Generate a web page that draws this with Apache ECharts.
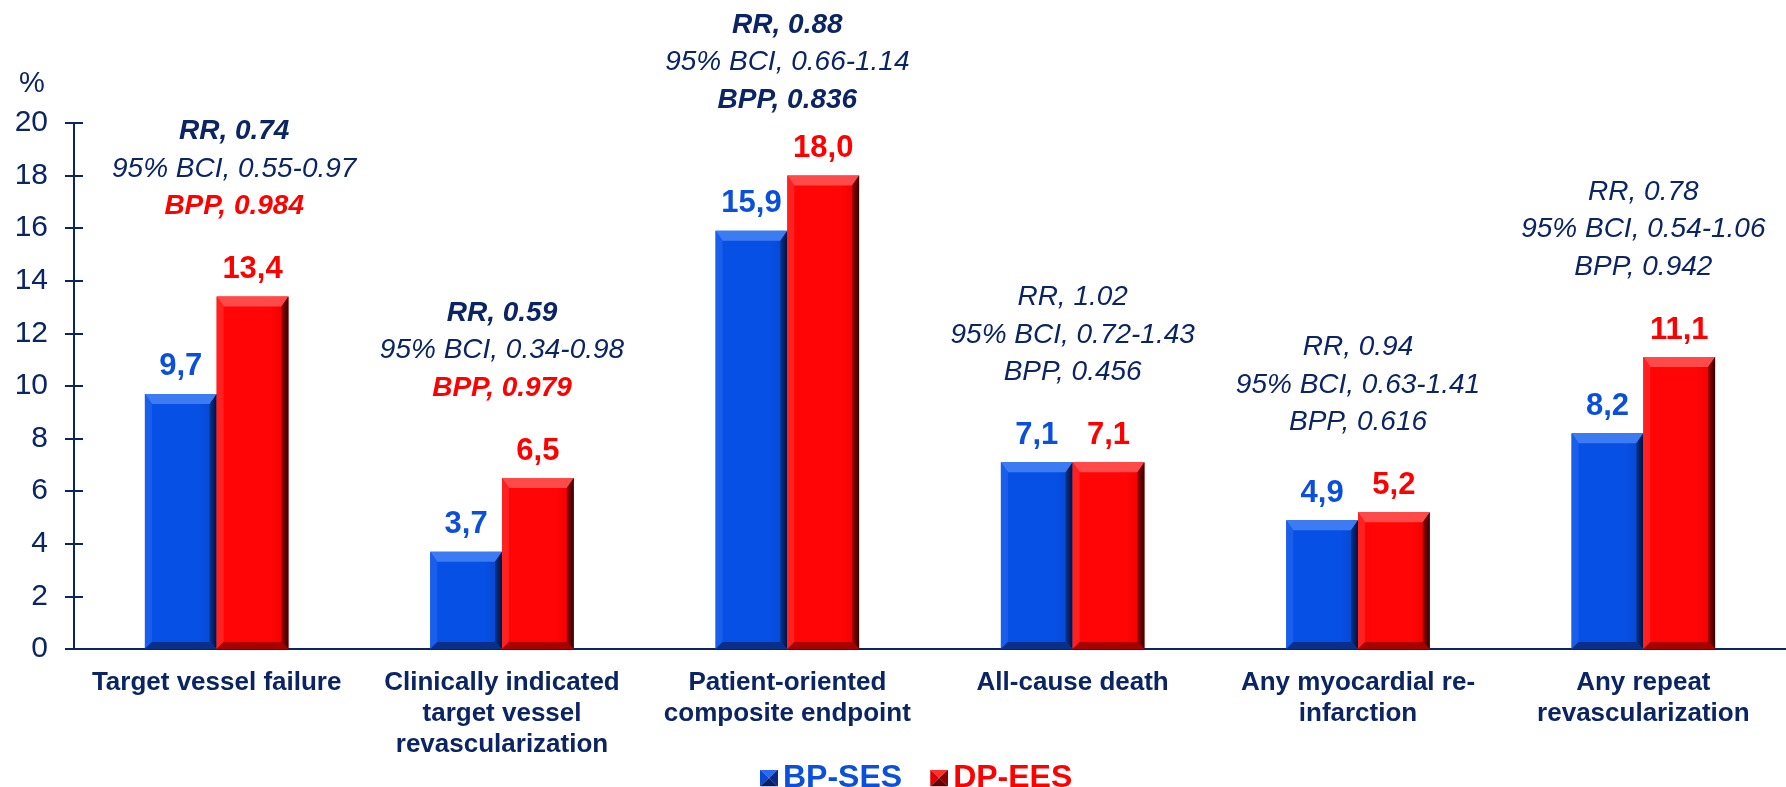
<!DOCTYPE html>
<html>
<head>
<meta charset="utf-8">
<title>BP-SES vs DP-EES</title>
<script src="https://cdn.jsdelivr.net/npm/echarts@6/dist/echarts.min.js"></script>
<style>
  html, body { margin: 0; padding: 0; background: #ffffff; }
  #chart { width: 1786px; height: 787px; }
</style>
</head>
<body>
<div id="chart"></div>
<script>
// ---- data ----
const categories = [
  'Target vessel failure',
  'Clinically indicated\ntarget vessel\nrevascularization',
  'Patient-oriented\ncomposite endpoint',
  'All-cause death',
  'Any myocardial re-\ninfarction',
  'Any repeat\nrevascularization'
];
const seriesNames = ['BP-SES', 'DP-EES'];
const bpSes = [9.7, 3.7, 15.9, 7.1, 4.9, 8.2];
const dpEes = [13.4, 6.5, 18.0, 7.1, 5.2, 11.1];
const riskRatio = [0.74, 0.59, 0.88, 1.02, 0.94, 0.78];
const bciLow = [0.55, 0.34, 0.66, 0.72, 0.63, 0.54];
const bciHigh = [0.97, 0.98, 1.14, 1.43, 1.41, 1.06];
const bpp = [0.984, 0.979, 0.836, 0.456, 0.616, 0.942];
const yMin = 0, yMax = 20, yStep = 2;

// ---- look ----
const NAVY = '#0b2463';
const FONT = '"Liberation Sans", Arial, Helvetica, sans-serif';
const palettes = [
  { face: '#0750e6', faceDark: '#0646c8', top: '#3d7bf2', left: '#1a5eec', rightA: '#08338f', rightB: '#020f3a', bottom: '#0a2f8a', label: '#0a50dc' },
  { face: '#ff0505', faceDark: '#ec0000', top: '#ff4a4a', left: '#ff2020', rightA: '#a00000', rightB: '#2e0000', bottom: '#a80000', label: '#ff0000' }
];
// how each group's note is emphasised
const noteStyle = ['highlight', 'highlight', 'bold', 'plain', 'plain', 'plain'];

function fmtValue(v) { return v.toFixed(1).replace('.', ','); }

const measureCtx = document.createElement('canvas').getContext('2d');
function textWidth(str, font) { measureCtx.font = font; return measureCtx.measureText(str).width; }

// bevelled bar with its value printed above it
function barRenderer(side) {
  return function (params, api) {
    const pal = palettes[side];
    const cat = api.value(0);
    const val = api.value(1);
    const base = api.coord([cat, 0]);
    const tip = api.coord([cat, val]);
    const band = api.size([1, 0])[0];
    const w = band * 0.2515;
    const x0 = base[0] + (side === 0 ? -w : 0);
    const x1 = x0 + w;
    const y0 = tip[1];
    const y1 = base[1];
    const h = y1 - y0;
    const b = 7;
    const bt = Math.min(10, h * 0.3);
    const bb = Math.min(7, h * 0.25);
    const children = [
      { type: 'rect', shape: { x: x0, y: y0, width: w, height: h },
        style: { fill: new echarts.graphic.LinearGradient(0, 0, 1, 0, [
          { offset: 0, color: pal.face }, { offset: 0.75, color: pal.face }, { offset: 1, color: pal.faceDark }]) } },
      { type: 'polygon', shape: { points: [[x0, y0], [x1, y0], [x1 - b, y0 + bt], [x0 + b, y0 + bt]] },
        style: { fill: pal.top } },
      { type: 'polygon', shape: { points: [[x0, y0], [x0 + b, y0 + bt], [x0 + b, y1 - bb], [x0, y1]] },
        style: { fill: pal.left } },
      { type: 'polygon', shape: { points: [[x1, y0], [x1, y1], [x1 - b, y1 - bb], [x1 - b, y0 + bt]] },
        style: { fill: new echarts.graphic.LinearGradient(0, 0, 1, 0, [
          { offset: 0, color: pal.rightA }, { offset: 1, color: pal.rightB }]) } },
      { type: 'polygon', shape: { points: [[x0, y1], [x1, y1], [x1 - b, y1 - bb], [x0 + b, y1 - bb]] },
        style: { fill: pal.bottom } },
      { type: 'text', x: x0 + w / 2, y: y0 - 27,
        style: { text: fmtValue(val), fill: pal.label, font: 'bold 31px ' + FONT, align: 'center', verticalAlign: 'middle' } }
    ];
    return { type: 'group', children: children };
  };
}

// three-line note (RR, credible interval, posterior probability) above each group
function noteRenderer(params, api) {
  const i = api.value(0);
  const tip = api.coord([i, api.value(1)]);
  const band = api.size([1, 0])[0];
  const axisX = api.coord([0, 0])[0] - band / 2;
  const gap = 37.5;
  let y3 = tip[1] - 90;
  let y1 = y3 - 2 * gap;
  if (y1 < 25) { y1 = 25; y3 = y1 + 2 * gap; }
  const kind = noteStyle[i];
  const lines = [
    { text: 'RR, ' + riskRatio[i].toFixed(2), bold: kind !== 'plain', color: NAVY },
    { text: '95% BCI, ' + bciLow[i].toFixed(2) + '-' + bciHigh[i].toFixed(2), bold: false, color: NAVY },
    { text: 'BPP, ' + bpp[i].toFixed(3), bold: kind !== 'plain', color: kind === 'highlight' ? '#ff0000' : NAVY }
  ];
  const fonts = lines.map(l => 'italic ' + (l.bold ? 'bold ' : '') + '28px ' + FONT);
  const half = Math.max.apply(null, lines.map((l, k) => textWidth(l.text, fonts[k]))) / 2;
  const cx = Math.max(tip[0], axisX + 38 + half);
  return {
    type: 'group',
    children: lines.map((l, k) => ({
      type: 'text', x: cx, y: y1 + k * gap,
      style: { text: l.text, fill: l.color, font: fonts[k], align: 'center', verticalAlign: 'middle' }
    }))
  };
}

function legendIcon(c) {
  const svg = '<svg xmlns="http://www.w3.org/2000/svg" width="18" height="17" viewBox="0 0 18 17">' +
    '<polygon points="0,0 18,0 9,8.5" fill="' + c[0] + '"/>' +
    '<polygon points="0,0 9,8.5 0,17" fill="' + c[1] + '"/>' +
    '<polygon points="18,0 18,17 9,8.5" fill="' + c[2] + '"/>' +
    '<polygon points="0,17 9,8.5 18,17" fill="' + c[3] + '"/></svg>';
  return 'image://data:image/svg+xml;charset=utf-8,' + encodeURIComponent(svg);
}

const groupTops = bpSes.map((v, i) => [i, Math.max(v, dpEes[i])]);

const chart = echarts.init(document.getElementById('chart'), null, { renderer: 'canvas' });
chart.setOption({
  animation: false,
  backgroundColor: '#ffffff',
  title: {
    text: '%', left: 14, top: 64,
    textStyle: { fontFamily: FONT, fontSize: 29, fontWeight: 'normal', color: NAVY }
  },
  legend: {
    left: 755, top: 757,
    itemWidth: 18, itemHeight: 17, itemGap: 28,
    textStyle: { fontFamily: FONT, fontSize: 32, fontWeight: 'bold' },
    data: [
      { name: seriesNames[0], icon: legendIcon(['#2a68ee', '#0a48d8', '#072a84', '#061f66']), textStyle: { color: palettes[0].label } },
      { name: seriesNames[1], icon: legendIcon(['#ff3030', '#e00000', '#8a0000', '#640000']), textStyle: { color: palettes[1].label } }
    ]
  },
  grid: { left: 74, top: 123, width: 1718, height: 526, containLabel: false },
  xAxis: {
    type: 'category',
    data: categories,
    axisLine: { show: true, lineStyle: { color: NAVY, width: 2 } },
    axisTick: { show: false },
    axisLabel: {
      interval: 0, margin: 18, color: NAVY, fontFamily: FONT,
      fontSize: 26, fontWeight: 'bold', lineHeight: 31, align: 'center'
    },
    splitLine: { show: false }
  },
  yAxis: [
    {
      type: 'value', min: yMin, max: yMax, interval: yStep,
      axisLine: { show: true, lineStyle: { color: NAVY, width: 2 } },
      axisTick: { show: true, length: 9, lineStyle: { color: NAVY, width: 2 } },
      axisLabel: { margin: 26, color: NAVY, fontFamily: FONT, fontSize: 30 },
      splitLine: { show: false }
    },
    {
      type: 'value', position: 'left', offset: 0, min: yMin, max: yMax, interval: yStep,
      axisLine: { show: false },
      axisTick: { show: true, inside: true, length: 9, lineStyle: { color: NAVY, width: 2 } },
      axisLabel: { show: false },
      splitLine: { show: false }
    }
  ],
  series: [
    {
      name: seriesNames[0], type: 'custom', renderItem: barRenderer(0),
      itemStyle: { color: palettes[0].face },
      encode: { x: 0, y: 1 },
      data: bpSes.map((v, i) => [i, v])
    },
    {
      name: seriesNames[1], type: 'custom', renderItem: barRenderer(1),
      itemStyle: { color: palettes[1].face },
      encode: { x: 0, y: 1 },
      data: dpEes.map((v, i) => [i, v])
    },
    {
      name: 'notes', type: 'custom', renderItem: noteRenderer, clip: false,
      encode: { x: 0, y: 1 },
      data: groupTops
    }
  ]
});
</script>
</body>
</html>
